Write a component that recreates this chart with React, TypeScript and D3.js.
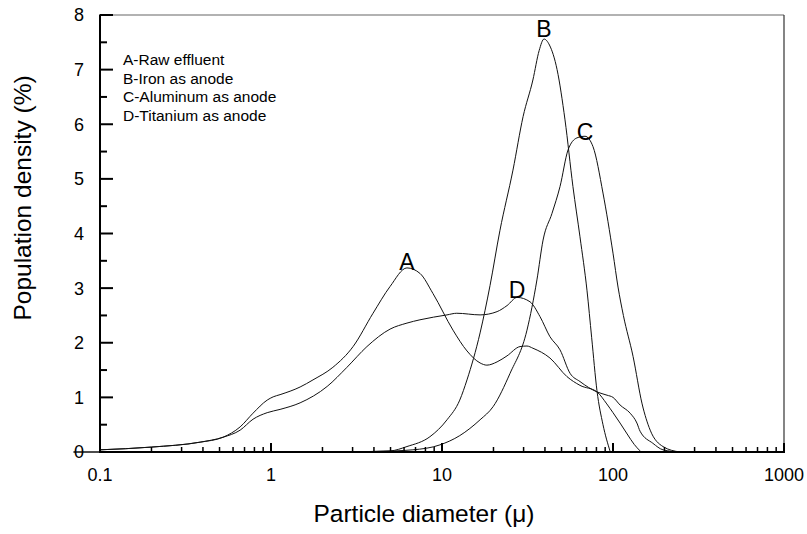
import React from "react";
import * as d3 from "d3";

const xTickLabels = ["0.1", "1", "10", "100", "1000"];
const yTickLabels = ["0", "1", "2", "3", "4", "5", "6", "7", "8"];
const legendLines = ["A-Raw effluent", "B-Iron as anode", "C-Aluminum as anode", "D-Titanium as anode"];

// Curve A: raw effluent
const aX = [0.1, 0.2, 0.385, 0.524, 0.66, 0.785, 0.95, 1.03, 1.13, 1.48, 1.76, 2.3, 3.02, 3.95, 4.97, 6.24, 7.43, 8.86, 11.6, 14.0, 16.7, 18.3, 21.0, 24.0, 28.6, 31.4, 34.0, 42.8, 53.8, 64.1, 80.6, 92.0, 100, 110, 121, 133, 144];
const aY = [0.04, 0.09, 0.18, 0.27, 0.46, 0.71, 0.95, 1.01, 1.05, 1.19, 1.32, 1.55, 1.93, 2.54, 3.03, 3.37, 3.27, 2.9, 2.23, 1.85, 1.63, 1.59, 1.65, 1.76, 1.93, 1.94, 1.9, 1.72, 1.38, 1.22, 1.1, 0.88, 0.72, 0.53, 0.33, 0.14, 0.02];

// Curve B: iron as anode
const bX = [0.07, 0.1, 1, 3, 4.97, 6.24, 8.5, 10.7, 12.7, 14.0, 16.7, 19.1, 21.8, 26.0, 29.8, 34.0, 37.0, 39.5, 42.5, 47.1, 52.4, 58.3, 64.1, 70.5, 75.0, 80.6, 87.4, 96.0];
const bY = [0, 0, 0, 0.005, 0.02, 0.1, 0.28, 0.59, 0.95, 1.32, 2.18, 3.05, 4.05, 5.16, 6.14, 6.81, 7.35, 7.56, 7.45, 7.0, 6.08, 4.86, 3.94, 2.95, 2.1, 1.12, 0.5, 0.02];

// Curve C: aluminum as anode
const cX = [0.07, 0.1, 1, 4.0, 6.76, 9.72, 12.7, 16.7, 19.9, 25.0, 31.4, 35.9, 39.0, 44.0, 49.0, 54.6, 61.5, 68.6, 76.4, 87.4, 100, 107, 115, 131, 148, 165, 196, 246];
const cY = [0, 0, 0, 0.01, 0.04, 0.13, 0.3, 0.59, 0.83, 1.44, 2.23, 3.15, 3.88, 4.37, 4.86, 5.53, 5.75, 5.78, 5.59, 4.74, 3.64, 3.02, 2.5, 1.75, 0.88, 0.4, 0.1, 0.0];

// Curve D: titanium as anode
const dX = [0.1, 0.2, 0.385, 0.524, 0.66, 0.785, 0.95, 1.13, 1.48, 2.13, 2.78, 3.64, 4.97, 6.24, 7.43, 10.7, 12.2, 16.7, 21.0, 24.0, 27.5, 32.7, 37.4, 42.8, 49.0, 56.1, 64.1, 80.6, 92.3, 100, 110, 126, 138, 144, 171, 196, 246];
const dY = [0.04, 0.09, 0.18, 0.27, 0.4, 0.6, 0.72, 0.78, 0.9, 1.2, 1.55, 1.93, 2.25, 2.36, 2.42, 2.51, 2.54, 2.51, 2.57, 2.68, 2.83, 2.75, 2.48, 2.11, 1.87, 1.44, 1.29, 1.1, 1.04, 1.0, 0.86, 0.71, 0.53, 0.38, 0.16, 0.04, 0.0];

const peakLabels = ["A", "B", "C", "D"];
const peakX = [6.24, 39.5, 68.6, 27.5];
const peakY = [3.37, 7.56, 5.78, 2.83];

const FONT = "'Liberation Sans', Arial, Helvetica, sans-serif";

export default function App() {
  const W = 807, H = 534;
  const left = 100, right = 784, top = 15, bottom = 452;
  const x = d3.scaleLog().domain([0.1, 1000]).range([left, right]);
  const y = d3.scaleLinear().domain([0, 8]).range([bottom, top]);

  const line = d3
    .line<[number, number]>()
    .x((d) => x(d[0]))
    .y((d) => y(d[1]))
    .curve(d3.curveMonotoneX);

  const series = [
    aX.map((v, i) => [v, aY[i]] as [number, number]),
    bX.map((v, i) => [v, bY[i]] as [number, number]),
    cX.map((v, i) => [v, cY[i]] as [number, number]),
    dX.map((v, i) => [v, dY[i]] as [number, number]),
  ];

  const majors = [0.1, 1, 10, 100, 1000];
  const minors: number[] = [];
  for (let k = -1; k < 3; k++) {
    for (let m = 2; m <= 9; m++) minors.push(m * Math.pow(10, k));
  }
  const yMajors = d3.range(0, 9);
  const yMinors = d3.range(0.5, 8, 1);

  // label baseline offsets relative to peaks (pixels)
  const labelDy = [2, -2, 3.5, 0.5];

  return (
    <svg width={W} height={H} style={{ position: "absolute", left: 0, top: 0, background: "#fff" }} fontFamily={FONT}>
      <rect x={0} y={0} width={W} height={H} fill="#fff" />
      {/* frame top and right */}
      <line x1={left} x2={right} y1={top} y2={top} stroke="#666" strokeWidth={1.2} />
      <line x1={right} x2={right} y1={top} y2={bottom} stroke="#333" strokeWidth={1.2} />

      {/* curves */}
      {series.map((s, i) => (
        <path key={i} d={line(s) || ""} fill="none" stroke="#111" strokeWidth={1} />
      ))}

      {/* axes */}
      <line x1={left} x2={left} y1={top - 0.5} y2={bottom + 1} stroke="#000" strokeWidth={2} />
      <line x1={left - 1} x2={right + 1} y1={bottom} y2={bottom} stroke="#000" strokeWidth={2} />

      {/* y ticks */}
      {yMajors.map((v) => (
        <line key={"ym" + v} x1={left} x2={left + 13} y1={y(v)} y2={y(v)} stroke="#000" strokeWidth={2} />
      ))}
      {yMinors.map((v) => (
        <line key={"yn" + v} x1={left} x2={left + 7} y1={y(v)} y2={y(v)} stroke="#000" strokeWidth={2} />
      ))}
      {yMajors.map((v, i) => (
        <text key={"yl" + v} x={84} y={y(v)} dy="0.36em" textAnchor="end" fontSize={18} fill="#000">
          {yTickLabels[i]}
        </text>
      ))}

      {/* x ticks */}
      {majors.map((v) => (
        <line key={"xm" + v} x1={x(v)} x2={x(v)} y1={bottom} y2={bottom - 9} stroke="#000" strokeWidth={2} />
      ))}
      {minors.map((v) => (
        <line key={"xn" + v} x1={x(v)} x2={x(v)} y1={bottom} y2={bottom - 5} stroke="#000" strokeWidth={1.5} />
      ))}
      {majors.map((v, i) => (
        <text key={"xl" + v} x={x(v)} y={475} dy="0.36em" textAnchor="middle" fontSize={18} fill="#000">
          {xTickLabels[i]}
        </text>
      ))}

      {/* axis titles */}
      <text x={424} y={522} textAnchor="middle" fontSize={24.5} fill="#000">
        Particle diameter (μ)
      </text>
      <text
        transform={`translate(31, 198) rotate(-90)`}
        textAnchor="middle"
        fontSize={24.5}
        fill="#000"
      >
        Population density (%)
      </text>

      {/* legend */}
      {legendLines.map((t, i) => (
        <text key={t} x={123} y={65 + i * 18.7} fontSize={15.5} fill="#000">
          {t}
        </text>
      ))}

      {/* peak labels */}
      {peakLabels.map((t, i) => (
        <text key={t} x={x(peakX[i])} y={y(peakY[i]) + labelDy[i]} textAnchor="middle" fontSize={23} fill="#000">
          {t}
        </text>
      ))}
    </svg>
  );
}
